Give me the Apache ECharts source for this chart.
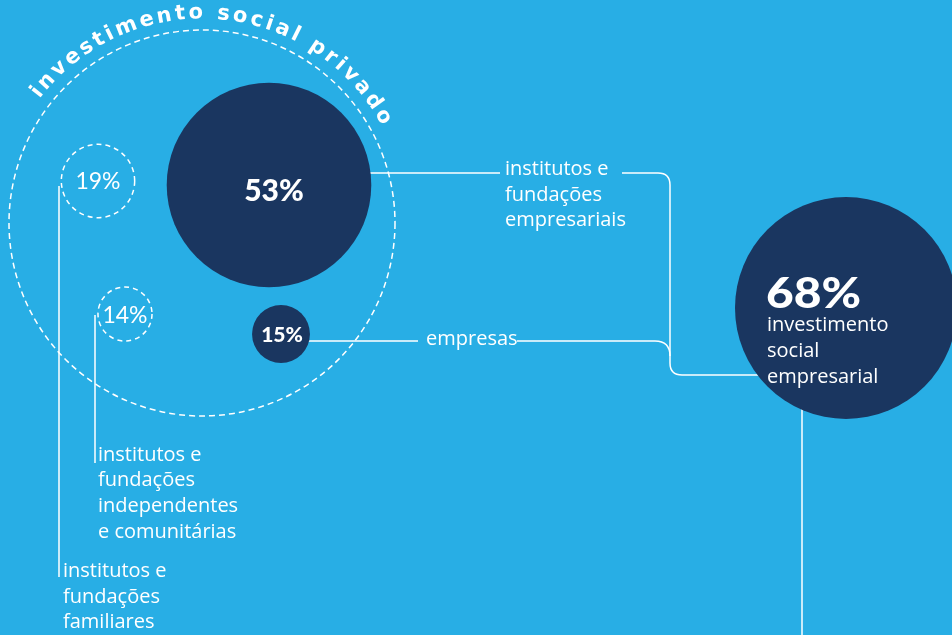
<!DOCTYPE html>
<html><head><meta charset="utf-8">
<style>html,body{margin:0;padding:0;background:#28aee5;}#c{width:952px;height:635px;}</style>
<script src="https://cdn.jsdelivr.net/npm/echarts@6/dist/echarts.min.js"></script>
</head><body><div id="c"></div>
<script>
// ---- data ----
const categories = [
  'institutos e\nfundações\nempresariais',
  'empresas',
  'institutos e\nfundações\nfamiliares',
  'institutos e\nfundações\nindependentes\ne comunitárias'
];
const values = [53, 15, 19, 14];
const isCorporate = [true, true, false, false];
const totalLabel = 'investimento social privado';
const totalValue = 100;
const corporateLabel = 'investimento\nsocial\nempresarial';
const corporateValue = 68;

// ---- layout (positions in page units, kept apart from data) ----
const W = 952, H = 635;
const BG = '#28aee5', NAVY = '#1a3660', LINE = '#ffffff';
const totalPos = [202, 223];
const innerPos = [[269, 185], [281, 334], [98, 181], [125, 314]];
const corpPos = [846, 308];
const innerScale = 3.86;     // px diameter per percentage point
const corpScale = 222 / 68;  // outer circle scale
const labelOffsets = [[5, 6], [1, 1], [0, 1], [0, 2]];

const chart = echarts.init(document.getElementById('c'), null, {renderer: 'canvas'});

const innerData = values.map((v, i) => ({
  value: [innerPos[i][0], innerPos[i][1], v],
  itemStyle: isCorporate[i]
    ? {color: NAVY, borderWidth: 0, opacity: 1}
    : {color: 'rgba(0,0,0,0)', borderColor: LINE, borderWidth: 1.5, borderType: [5, 4], opacity: 1},
  label: {
    show: true, position: 'inside', offset: labelOffsets[i],
    formatter: p => p.value[2] + '%',
    color: '#ffffff',
    fontFamily: 'Lato',
    fontWeight: isCorporate[i] ? 900 : 400,
    fontSize: isCorporate[i] ? (v > 30 ? 30 : 21) : 23
  }
}));

// ---- curved title ----
const elements = [];
const arcFamily = 'DejaVu Sans', arcSize = 21, arcWeight = 'bold';
const ctx = document.createElement('canvas').getContext('2d');
ctx.font = arcWeight + ' ' + arcSize + 'px "' + arcFamily + '"';
const chars = totalLabel.split('');
const widths = chars.map(c => ctx.measureText(c).width);
const R = 210;
const a0 = -51.6 * Math.PI / 180, a1 = 59.6 * Math.PI / 180;
const arcLen = (a1 - a0) * R;
const innerW = widths.reduce((s, w) => s + w, 0) - widths[0] / 2 - widths[widths.length - 1] / 2;
const gap = (arcLen - innerW) / (chars.length - 1);
let s = 0;
chars.forEach((c, i) => {
  if (i > 0) s += widths[i - 1] / 2 + gap + widths[i] / 2;
  const th = a0 + s / R;
  elements.push({
    type: 'text', z: 10,
    x: totalPos[0] + R * Math.sin(th), y: totalPos[1] - R * Math.cos(th),
    rotation: -th,
    style: {text: c, fontFamily: arcFamily, fontSize: arcSize, fontWeight: arcWeight,
            fill: '#fff', align: 'center', verticalAlign: 'middle'}
  });
});

// ---- connectors ----
const lw = 1.5;
function seg(pts) { return {type: 'polyline', z: 0, shape: {points: pts}, style: {stroke: LINE, lineWidth: lw, fill: null}}; }
function curve(x1, y1, cx, cy, x2, y2) { return {type: 'bezierCurve', z: 0, shape: {x1, y1, cpx1: cx, cpy1: cy, x2, y2}, style: {stroke: LINE, lineWidth: lw, fill: null}}; }
elements.push(
  seg([[300, 173], [500, 173]]),
  seg([[622, 173], [658, 173]]),
  curve(658, 173, 670, 173, 670, 185),
  seg([[670, 185], [670, 363]]),
  curve(670, 363, 670, 375, 682, 375),
  seg([[682, 375], [790, 375]]),
  seg([[290, 341], [418, 341]]),
  seg([[517, 341], [655, 341]]),
  curve(655, 341, 670, 341, 670, 356),
  seg([[802, 380], [802, 635]]),
  seg([[59, 186], [59, 577]]),
  seg([[95, 315], [95, 463]])
);

// ---- category labels ----
const txtStyle = {fontFamily: 'Open Sans', fontSize: 20, fontWeight: 400, fill: '#fff', align: 'left', verticalAlign: 'top'};
const labelPos = [[505, 157, 25.5], [426, 326.5, 25.5], [63, 559, 25.5], [98, 442, 25.7]];
categories.forEach((t, i) => {
  elements.push({
    type: 'text', z: 10, x: labelPos[i][0], y: labelPos[i][1],
    style: Object.assign({}, txtStyle, {text: t, lineHeight: labelPos[i][2]})
  });
});
elements.push({
  type: 'text', z: 10, x: 766, y: 294, scaleX: 1.14,
  style: {text: corporateValue + '%', fontFamily: 'Lato', fontSize: 42, fontWeight: 900,
          fill: '#fff', align: 'left', verticalAlign: 'middle'}
});
elements.push({
  type: 'text', z: 10, x: 767, y: 312,
  style: Object.assign({}, txtStyle, {text: corporateLabel, lineHeight: 26})
});

chart.setOption({
  backgroundColor: BG,
  animation: false,
  grid: {left: 0, right: 0, top: 0, bottom: 0},
  xAxis: {type: 'value', min: 0, max: W, show: false},
  yAxis: {type: 'value', min: 0, max: H, inverse: true, show: false},
  graphic: {elements},
  series: [
    {
      type: 'scatter', z: 2, silent: true,
      data: [{value: [totalPos[0], totalPos[1], totalValue]}],
      symbolSize: v => v[2] * innerScale,
      itemStyle: {color: 'rgba(0,0,0,0)', borderColor: LINE, borderWidth: 1.5, borderType: [6, 4], opacity: 1}
    },
    {
      type: 'scatter', z: 3, silent: true,
      data: innerData,
      symbolSize: v => v[2] * innerScale
    },
    {
      type: 'scatter', z: 3, silent: true, clip: false,
      data: [{value: [corpPos[0], corpPos[1], corporateValue]}],
      symbolSize: v => v[2] * corpScale,
      itemStyle: {color: NAVY, opacity: 1}
    }
  ]
});
</script></body></html>
